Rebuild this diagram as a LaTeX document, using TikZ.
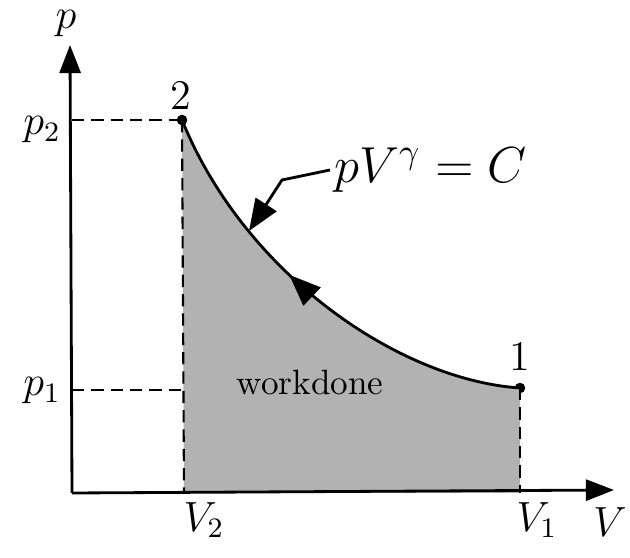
\documentclass[tikz,border=0pt]{standalone}
\usepackage{amsmath}
\usetikzlibrary{arrows.meta,decorations.markings}
\tikzset{
  axis/.style={line width=0.8pt,draw=black,-{Triangle[length=8pt,width=6pt]}},
  guide/.style={line width=0.6pt,draw=black,dash pattern=on 3.5pt off 2pt},
  curve/.style={line width=0.8pt,draw=black},
  area/.style={fill=gray!60},
  lbl/.style={inner sep=1pt,font=\large},
  pt/.style={circle,fill=black,inner sep=0pt,minimum size=3pt},
  midarrow/.style={postaction={decorate},decoration={markings,
      mark=at position #1 with {\arrow{Triangle[length=9pt,width=7pt]}}}}
}
\begin{document}
\begin{tikzpicture}[x=0.01cm,y=-0.01cm]
\useasboundingbox (0,0) rectangle (630,558);
% Zustaende
\node[pt] (s2) at (182,120) {};
\node[pt] (s1) at (520,388) {};
% Flaeche unter der Kurve
\fill[area] (184,493) -- (s2.center) .. controls (245,275) and (400,380) .. (s1.center)
  -- (520,493) -- cycle;
% Achsen
\coordinate (O) at (72,493);
\coordinate (ptop) at (70,45);
\coordinate (vend) at (614,490);
\draw[axis] (O) -- (ptop);
\draw[axis] (O) -- (vend);
\coordinate (v2) at (184,493);
\coordinate (v1) at (520,493);
\coordinate (p2) at (72,120);
\coordinate (p1) at (72,390);
\draw[guide] (p2) -- (s2.center);
\draw[guide] (p1) -- (184,390);
\draw[guide] (s2.center) -- (v2);
\draw[guide] (s1.center) -- (v1);
% Kurve
\draw[curve,midarrow=0.58] (s1.center) .. controls (400,380) and (245,275) .. (s2.center);
% Beschriftungen
\node[lbl,anchor=base] (lp) at (66,29) {$p$};
\node[lbl] (lv) at (610,522) {$V$};
\node[lbl] (lp2) at (42,130) {$p_2$};
\node[lbl] (lp1) at (42,391) {$p_1$};
\node[lbl] (lv2) at (204,520) {$V_2$};
\node[lbl] (lv1) at (537,520) {$V_1$};
\node[lbl] (l2) at (181,95) {2};
\node[lbl] (l1) at (520,356) {1};
\node[font=\normalsize] (work) at (310,382) {workdone};
\node[font=\Large,anchor=west,inner sep=1pt] (eq) at (330,170) {$pV^{\gamma}=C$};
\draw[curve,-{Triangle[length=9pt,width=7pt]}] (eq.west) -- (282,180) -- (249,231);
\end{tikzpicture}
\end{document}
